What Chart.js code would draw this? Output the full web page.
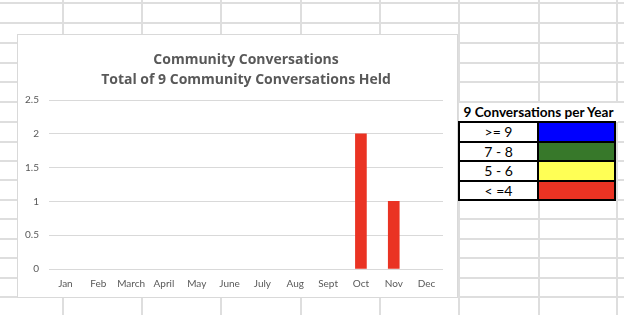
<!DOCTYPE html>
<html>
<head>
<meta charset="utf-8">
<script src="https://cdn.jsdelivr.net/npm/chart.js@4/dist/chart.umd.min.js"></script>
<style>
    html, body { margin: 0; padding: 0; background: #fff; }
    body { width: 624px; height: 315px; position: relative; overflow: hidden; font-family: Lato, "Open Sans", sans-serif; }
    .hline { position: absolute; left: 0; width: 624px; height: 2px; background: #dedede; }
    .vline { position: absolute; top: 0; height: 315px; width: 2px; background: #dedede; }
    #chartBox { position: absolute; left: 17px; top: 34px; width: 439px; height: 262px; background: #fff; border: 1px solid #d9d9d9; }
    #legendTitle { position: absolute; left: 459px; top: 103px; width: 159px; height: 19px; background: #fff;
                   font-weight: bold; font-size: 13.6px; line-height: 19px; text-align: center; color: #000; }
    .cell { position: absolute; box-sizing: border-box; border: 2px solid #000; background: #fff;
            font-size: 14px; text-align: center; color: #000; }
</style>
</head>
<body>
<div id="chartBox"><canvas id="chart" width="439" height="262"></canvas></div>
<div id="legendTitle"></div>
<script>
    // Chart data (months without a conversation are left blank)
    const months = ['Jan', 'Feb', 'March', 'April', 'May', 'June', 'July', 'Aug', 'Sept', 'Oct', 'Nov', 'Dec'];
    const conversations = [null, null, null, null, null, null, null, null, null, 2, 1, null];
    const chartTitle = ['Community Conversations', 'Total of 9 Community Conversations Held'];

    // Colour key table beside the chart
    const legendHeading = '9 Conversations per Year';
    const legendRanges = ['>= 9', '7 - 8', '5 - 6', '< =4'];
    const legendColors = ['#0000ff', '#37782a', '#ffff55', '#ea3323'];

    // Spreadsheet grid behind everything
    const sheetRows = [3, 23, 43, 63, 82, 102, 122, 142, 161, 180, 200, 219, 239, 258, 278, 297];
    const sheetCols = [63, 142, 221, 301, 380, 459, 539, 617];

    sheetRows.forEach(function (y) {
        const d = document.createElement('div');
        d.className = 'hline';
        d.style.top = (y - 1) + 'px';
        document.body.insertBefore(d, document.body.firstChild);
    });
    sheetCols.forEach(function (x) {
        const d = document.createElement('div');
        d.className = 'vline';
        d.style.left = (x - 1) + 'px';
        document.body.insertBefore(d, document.body.firstChild);
    });

    document.getElementById('legendTitle').textContent = legendHeading;
    const tableTop = 121, rowH = 19.5, labelW = 81, swatchW = 79, tableLeft = 458;
    legendRanges.forEach(function (label, i) {
        const top = tableTop + i * rowH;
        const a = document.createElement('div');
        a.className = 'cell';
        a.style.cssText = 'left:' + tableLeft + 'px;top:' + top + 'px;width:' + labelW + 'px;height:' + (rowH + 2) + 'px;line-height:' + (rowH - 2) + 'px;';
        a.textContent = label;
        document.body.appendChild(a);
        const b = document.createElement('div');
        b.className = 'cell';
        b.style.cssText = 'left:' + (tableLeft + labelW - 2) + 'px;top:' + top + 'px;width:' + swatchW + 'px;height:' + (rowH + 2) + 'px;background:' + legendColors[i] + ';';
        document.body.appendChild(b);
    });

    const grey = '#595959';
    new Chart(document.getElementById('chart'), {
        type: 'bar',
        data: {
            labels: months,
            datasets: [{
                data: conversations,
                backgroundColor: legendColors[3],
                borderWidth: 0,
                barThickness: 11
            }]
        },
        options: {
            responsive: false,
            animation: false,
            devicePixelRatio: 1,
            layout: { padding: { left: 0, right: 14, top: 0, bottom: 8 } },
            plugins: {
                legend: { display: false },
                tooltip: { enabled: false },
                title: {
                    display: true,
                    text: chartTitle,
                    color: grey,
                    fullSize: false,
                    font: { family: '"Open Sans"', size: 14, weight: 'bold', lineHeight: 1.43 },
                    padding: { top: 15, bottom: 10 }
                }
            },
            scales: {
                x: {
                    grid: { display: false, drawTicks: false },
                    border: { display: false },
                    ticks: { color: grey, font: { family: 'Lato', size: 10 }, padding: 9, maxRotation: 0, autoSkip: false },
                    afterFit: function (s) { s.height = 20; }
                },
                y: {
                    min: 0,
                    max: 2.5,
                    ticks: {
                        stepSize: 0.5, color: grey, font: { family: 'Lato', size: 10 }, padding: 10,
                        callback: function (v) { return String(v); }
                    },
                    grid: { color: '#d9d9d9', drawTicks: false },
                    border: { display: false },
                    afterFit: function (s) { s.width = 31; }
                }
            }
        }
    });
</script>
</body>
</html>
